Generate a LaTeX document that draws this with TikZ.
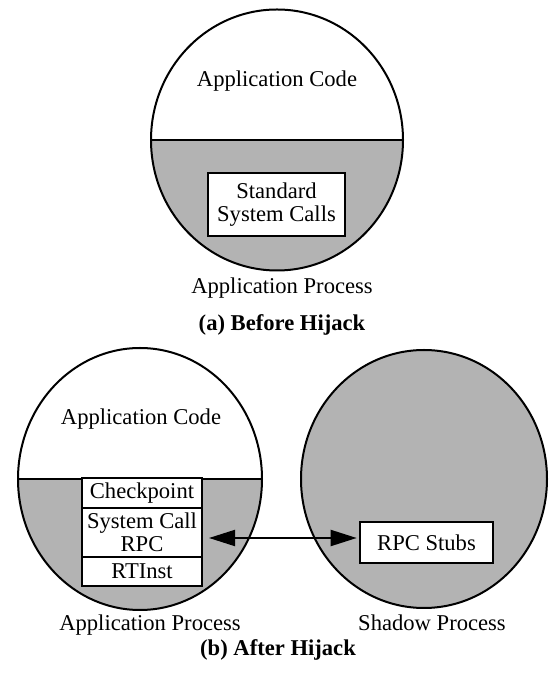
\documentclass[tikz,border=0pt]{standalone}
\usepackage{fontspec}
\setmainfont{Liberation Serif}
\usepackage{tikz}
\usetikzlibrary{arrows.meta,positioning}
\definecolor{procgray}{RGB}{179,179,179}
\tikzstyle{link} = [line width=1pt,{Triangle[length=13pt,width=8pt]}-{Triangle[length=13pt,width=8pt]},shorten <=3pt,shorten >=1pt]

\begin{document}
\begin{tikzpicture}[x=0.5pt, y=0.5pt,
    callbox/.style={rectangle, draw, fill=white, line width=1.3pt, inner sep=0pt, align=center},
    layer/.style={rectangle, draw, fill=white, line width=1pt, inner sep=0pt, minimum width=60pt, align=center},
    label/.style={inner sep=0pt, anchor=base}]
\useasboundingbox (0,0) rectangle (550,675);
\fontsize{11.3}{11.6}\selectfont

% (a) Before Hijack
\fill[procgray] (151,535) arc[start angle=180, end angle=360, x radius=126, y radius=130.5] -- cycle;
\draw[line width=1pt] (277,535) ellipse [x radius=126, y radius=130.5];
\draw[line width=1pt] (151,535) -- (403,535);
\node[label] (code1) at (277,588) {Application Code};
\node[callbox, minimum width=68.5pt, minimum height=31.5pt] (std) at (276.5,470.5) {Standard\\System Calls};
\node[label] (proc1) at (282,381) {Application Process};
\node[label, font=\bfseries] (capa) at (282,344) {(a) Before Hijack};

% (b) After Hijack -- application process
\fill[procgray] (18,196) arc[start angle=180, end angle=360, x radius=122, y radius=131] -- cycle;
\draw[line width=1pt] (140,196) ellipse [x radius=122, y radius=131];
\draw[line width=1pt] (18,196) -- (262,196);
\node[label] (code2) at (141,250) {Application Code};
\node[layer, minimum height=15pt] (ckpt) at (142,182) {Checkpoint};
\node[layer, minimum height=24.5pt] (sysrpc) at (142,142.5) {System Call\\RPC};
\node[layer, minimum height=14.5pt] (rtinst) at (142,103.5) {RTInst};
\node[label] (proc2) at (150,44) {Application Process};

% shadow process
\draw[line width=1pt, fill=procgray] (424,196) ellipse [x radius=123, y radius=129];
\node[callbox, minimum width=66.5pt, minimum height=20.5pt] (stubs) at (426.5,132.5) {RPC Stubs};
\node[label] (shadow) at (432,44) {Shadow Process};

% RPC link
\draw[link] ([yshift=-2.75pt]sysrpc.east) -- ([yshift=-2.75pt]sysrpc.east -| stubs.west);

\node[label, font=\bfseries] (capb) at (278,19) {(b) After Hijack};
\end{tikzpicture}
\end{document}
